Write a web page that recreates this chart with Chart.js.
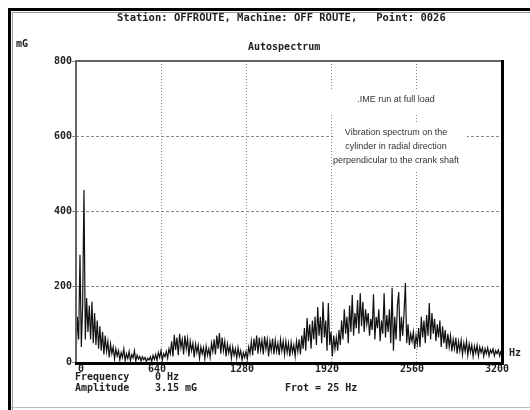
<!DOCTYPE html>
<html>
<head>
<meta charset="utf-8">
<script src="https://cdn.jsdelivr.net/npm/chart.js@4.4.1/dist/chart.umd.min.js"></script>
<style>
  body { margin: 0; background: #fff; }
  #wrap { position: relative; width: 530px; height: 410px; }
</style>
</head>
<body>
<div id="wrap"><canvas id="spectrum"></canvas></div>
<script>
// spectrum, one value every 10 Hz (mG)
const freqStep = 10;
const ampBand1 = [ // 0 - 790 Hz
  5, 120, 60, 285, 40, 150, 457, 60, 170, 80,
  150, 60, 160, 50, 130, 45, 110, 35, 95, 30,
  80, 20, 70, 28, 55, 12, 48, 22, 40, 8,
  35, 16, 30, 5, 25, 12, 35, 3, 22, 9,
  28, 3, 20, 11, 30, 2, 18, 8, 15, 2,
  14, 6, 12, 1, 10, 5, 14, 1, 18, 7,
  20, 4, 25, 12, 30, 5, 22, 14, 28, 10,
  35, 22, 55, 15, 72, 32, 65, 18, 75, 38
];
const ampBand2 = [ // 800 - 1590 Hz
  60, 20, 70, 35, 62, 15, 55, 30, 50, 12,
  48, 25, 45, 10, 40, 22, 38, 8, 42, 18,
  35, 12, 50, 28, 60, 20, 70, 35, 77, 22,
  65, 30, 55, 15, 48, 24, 42, 10, 40, 18,
  35, 10, 38, 15, 30, 5, 25, 12, 28, 8,
  40, 22, 55, 18, 62, 30, 70, 22, 65, 32,
  58, 20, 68, 35, 60, 15, 55, 30, 62, 20,
  58, 28, 50, 18, 60, 30, 55, 20, 55, 25
];
const ampBand3 = [ // 1600 - 2390 Hz
  50, 15, 52, 25, 45, 15, 55, 28, 60, 20,
  70, 35, 90, 30, 117, 55, 100, 35, 110, 60,
  120, 45, 146, 70, 120, 50, 160, 65, 110, 30,
  157, 45, 80, 15, 70, 35, 65, 30, 85, 45,
  110, 60, 140, 75, 120, 50, 150, 80, 178, 70,
  130, 90, 165, 75, 183, 95, 160, 80, 140, 100,
  130, 70, 115, 85, 180, 60, 120, 90, 140, 55,
  110, 75, 183, 65, 125, 80, 140, 50, 197, 30
];
const ampBand4 = [ // 2400 - 3200 Hz
  120, 60, 150, 186, 55, 120, 70, 130, 210, 50,
  100, 45, 75, 55, 80, 35, 70, 48, 90, 40,
  120, 65, 110, 50, 125, 70, 157, 60, 130, 75,
  115, 55, 100, 65, 110, 40, 95, 50, 85, 35,
  75, 40, 70, 28, 60, 35, 65, 22, 55, 30,
  58, 20, 50, 28, 55, 18, 48, 26, 45, 15,
  42, 24, 45, 16, 40, 25, 38, 15, 35, 22,
  38, 16, 32, 24, 35, 16, 30, 22, 32, 16,
  30
];
const xTicks = [0, 640, 1280, 1920, 2560, 3200];
const yTicks = [0, 200, 400, 600, 800];

const amplitude = ampBand1.concat(ampBand2, ampBand3, ampBand4);
const points = amplitude.map((v, i) => ({ x: i * freqStep, y: v }));

const MONO = '"DejaVu Sans Mono", monospace';

const decor = {
  id: 'decor',
  afterDraw(chart) {
    const ctx = chart.ctx;
    const a = chart.chartArea;
    ctx.save();

    // outer frame
    ctx.fillStyle = '#000';
    ctx.fillRect(8, 8, 522, 3);
    ctx.fillRect(8, 8, 3, 402);
    ctx.fillStyle = '#999';
    ctx.fillRect(12, 12, 518, 1);
    ctx.fillRect(12, 12, 1, 398);
    ctx.fillStyle = '#bbb';
    ctx.fillRect(11, 407, 519, 1);

    // note boxes cover the grid
    ctx.fillStyle = '#fff';
    ctx.fillRect(325, 90, 145, 25);
    ctx.fillRect(333, 124, 134, 46);

    // plot frame
    ctx.fillStyle = '#666';
    ctx.fillRect(a.left - 1, a.top - 1, a.right - a.left + 2, 2);
    ctx.fillRect(a.left - 1, a.top - 1, 2, a.bottom - a.top + 2);
    ctx.fillStyle = '#000';
    ctx.fillRect(a.right, a.top - 1, 3, a.bottom - a.top + 4);
    ctx.fillRect(a.left - 1, a.bottom, a.right - a.left + 4, 3);

    // headings
    ctx.fillStyle = '#222';
    ctx.font = 'bold 10.5px ' + MONO;
    ctx.textBaseline = 'middle';
    ctx.textAlign = 'left';
    ctx.fillText('Station: OFFROUTE, Machine: OFF ROUTE,   Point: 0026', 117, 18);
    ctx.font = 'bold 10px ' + MONO;
    ctx.fillText('Autospectrum', 248, 47);
    ctx.fillText('mG', 16, 44);
    ctx.fillText('Hz', 509, 353);
    ctx.fillText('Frequency', 75, 377);
    ctx.fillText('0 Hz', 155, 377);
    ctx.fillText('Amplitude', 75, 388);
    ctx.fillText('3.15 mG', 155, 388);
    ctx.fillText('Frot = 25 Hz', 285, 388);

    // notes
    ctx.fillStyle = '#333';
    ctx.font = '9px "Liberation Sans", Arial, sans-serif';
    ctx.textAlign = 'center';
    ctx.fillText('.IME run at full load', 396, 100);
    ctx.fillText('Vibration spectrum on the', 396, 133);
    ctx.fillText('cylinder in radial direction', 396, 147);
    ctx.fillText('perpendicular to the crank shaft', 396, 161);
    ctx.restore();
  }
};

new Chart(document.getElementById('spectrum'), {
  type: 'line',
  data: {
    datasets: [{
      data: points,
      borderColor: '#111',
      borderWidth: 1.2,
      pointRadius: 0,
      tension: 0,
      fill: false
    }]
  },
  options: {
    responsive: true,
    maintainAspectRatio: false,
    animation: false,
    events: [],
    layout: { padding: { left: 0, right: 29, top: 61, bottom: 34 } },
    plugins: { legend: { display: false }, tooltip: { enabled: false } },
    scales: {
      x: {
        type: 'linear',
        min: 0,
        max: 3200,
        afterBuildTicks: s => { s.ticks = xTicks.map(v => ({ value: v })); },
        afterFit: s => { s.height = 14; },
        grid: { color: '#888', lineWidth: 1, drawTicks: false },
        border: { display: false, dash: [1, 2] },
        ticks: {
          color: '#222',
          font: { family: MONO, size: 10, weight: 'bold' },
          padding: 1,
          labelOffset: -4,
          maxRotation: 0,
          autoSkip: false,
          callback: v => (v === 0 ? '   0' : String(v))
        }
      },
      y: {
        min: 0,
        max: 800,
        afterBuildTicks: s => { s.ticks = yTicks.map(v => ({ value: v })); },
        afterFit: s => { s.width = 76; },
        grid: { color: '#888', lineWidth: 1, tickLength: 4 },
        border: { display: false, dash: [3, 2] },
        ticks: {
          color: '#222',
          font: { family: MONO, size: 10, weight: 'bold' },
          padding: 0,
          autoSkip: false,
          callback: v => String(v)
        }
      }
    }
  },
  plugins: [decor]
});
</script>
</body>
</html>
